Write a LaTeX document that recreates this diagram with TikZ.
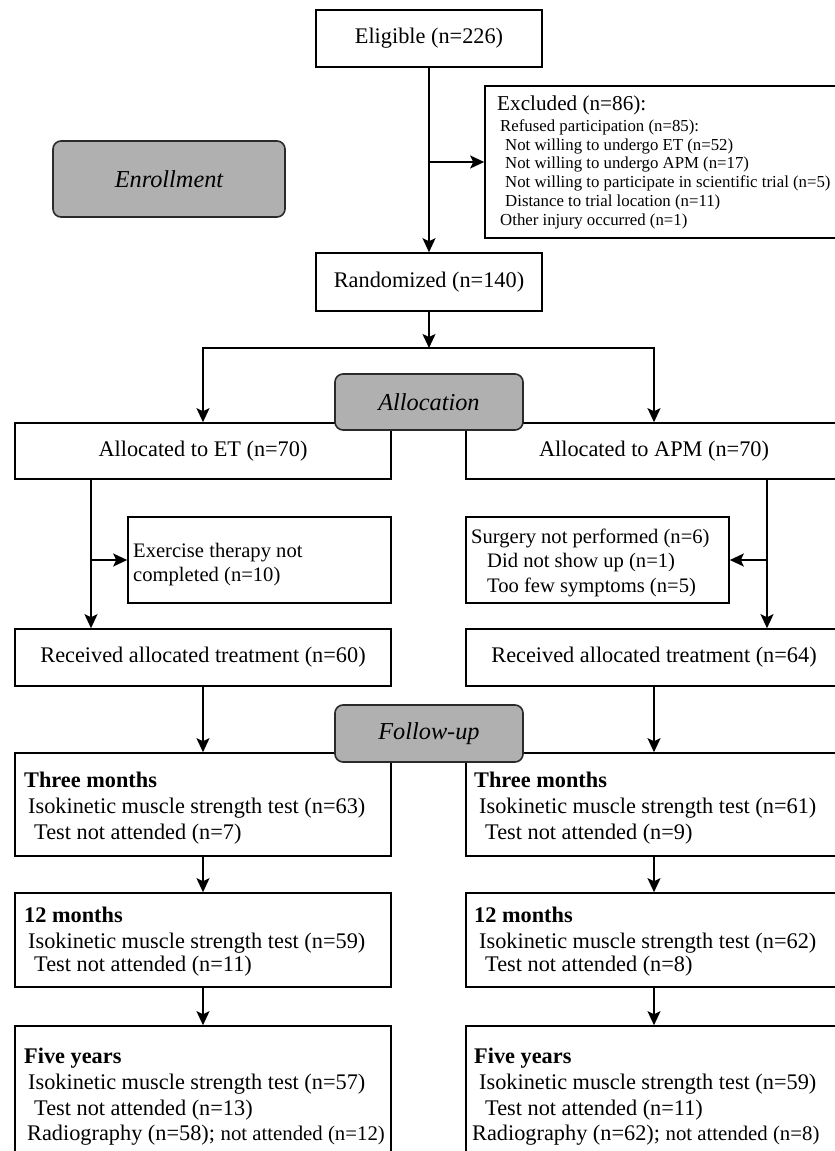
\documentclass[tikz,border=0pt]{standalone}
\usepackage{fontspec}
\setmainfont{Liberation Serif}
\usetikzlibrary{arrows.meta}
\definecolor{phase}{HTML}{B0B0B0}
\definecolor{phaseline}{HTML}{2A2A2A}
\newcommand{\smallpart}[1]{{\fontsize{20.8}{24}\selectfont #1}}
\begin{document}
\begin{tikzpicture}[x=1pt,y=-1pt,
  every node/.style={font=\fontsize{22.3}{26}\selectfont},
  box/.style={draw, line width=1.6pt, fill=white, inner sep=0pt, minimum width=376pt},
  phasebox/.style={draw=phaseline, line width=1.6pt, fill=phase, rounded corners=8pt, inner sep=0pt,
     font=\fontsize{24.3}{28}\selectfont\itshape},
  txt/.style={inner sep=0pt, anchor=base west},
  small/.style={txt, font=\fontsize{16.8}{20}\selectfont},
  mid/.style={txt, font=\fontsize{20.6}{24}\selectfont},
  ln/.style={line width=1.6pt},
  arr/.style={line width=1.6pt, -{Stealth[length=14pt,width=13pt,inset=3pt]}}]
\useasboundingbox (0,0) rectangle (835,1151);
\clip (0,0) rectangle (835,1151);
\fill[white] (0,0) rectangle (835,1151);

% enrollment
\node[box, minimum width=226pt, minimum height=57pt] (elig) at (429,38.5) {Eligible (n=226)};
\node[box, minimum width=360pt, minimum height=152pt] (excl) at (665,162) {};
\node[box, minimum width=226pt, minimum height=58pt] (rand) at (429,282) {Randomized (n=140)};
\node[phasebox, minimum width=232pt, minimum height=76pt] (enroll) at (169,179) {Enrollment};

\node[txt, font=\fontsize{21.2}{24}\selectfont] (exclT) at (497,110) {Excluded (n=86):};
\node[small] (exclA) at (500,131) {Refused participation (n=85):};
\node[small] (exclB) at (505,150) {Not willing to undergo ET (n=52)};
\node[small] (exclC) at (505,168.5) {Not willing to undergo APM (n=17)};
\node[small] (exclD) at (505,187) {Not willing to participate in scientific trial (n=5)};
\node[small] (exclE) at (505,206) {Distance to trial location (n=11)};
\node[small] (exclF) at (500,225) {Other injury occurred (n=1)};

\draw[arr] (elig.south) -- (rand.north);
\draw[arr] (elig.south |- excl.west) -- (excl.west);

% allocation
\node[box, minimum height=56pt] (alET) at (203,451) {Allocated to ET (n=70)};
\node[box, minimum height=56pt] (alAPM) at (654,451) {Allocated to APM (n=70)};
\coordinate (split) at (429,348);
\draw[arr] (rand.south) -- (split);
\draw[arr] (split) -| (alET.north);
\draw[arr] (split) -| (alAPM.north);
\node[phasebox, minimum width=188pt, minimum height=56pt] (alloc) at (429,402) {Allocation};

\node[box, minimum width=263pt, minimum height=86pt] (exer) at (259.5,560) {};
\node[mid] (exerA) at (133,557) {Exercise therapy not};
\node[mid] (exerB) at (133,581) {completed (n=10)};
\node[box, minimum width=263pt, minimum height=86pt] (surg) at (597.5,560) {};
\node[mid] (surgA) at (471,543) {Surgery not performed (n=6)};
\node[mid] (surgB) at (487,567) {Did not show up (n=1)};
\node[mid] (surgC) at (487,592) {Too few symptoms (n=5)};

\node[box, minimum height=57pt] (recET) at (203,657.5) {Received allocated treatment (n=60)};
\node[box, minimum height=57pt] (recAPM) at (654,657.5) {Received allocated treatment (n=64)};

\draw[arr] ([xshift=-112pt]alET.south) -- ([xshift=-112pt]recET.north);
\draw[arr] ([xshift=-112pt]alET.south |- exer.west) -- (exer.west);
\draw[arr] ([xshift=113pt]alAPM.south) -- ([xshift=113pt]recAPM.north);
\draw[arr] ([xshift=113pt]alAPM.south |- surg.east) -- (surg.east);

% follow-up
\node[box, minimum height=103pt] (tmET) at (203,804.5) {};
\node[box, minimum height=103pt] (tmAPM) at (654,804.5) {};
\node[phasebox, minimum width=188pt, minimum height=57pt] (fu) at (429,733.5) {Follow-up};
\draw[arr] (recET.south) -- (tmET.north);
\draw[arr] (recAPM.south) -- (tmAPM.north);

\node[txt] (tmETa) at (24,787) {\bfseries Three months};
\node[txt] (tmETb) at (28,813) {Isokinetic muscle strength test (n=63)};
\node[txt] (tmETc) at (34,839) {Test not attended (n=7)};
\node[txt] (tmAPMa) at (474,787) {\bfseries Three months};
\node[txt] (tmAPMb) at (479,813) {Isokinetic muscle strength test (n=61)};
\node[txt] (tmAPMc) at (485,839) {Test not attended (n=9)};

\node[box, minimum height=94pt] (twET) at (203,940) {};
\node[box, minimum height=94pt] (twAPM) at (654,940) {};
\draw[arr] (tmET.south) -- (twET.north);
\draw[arr] (tmAPM.south) -- (twAPM.north);

\node[txt] (twETa) at (24,922) {\bfseries 12 months};
\node[txt] (twETb) at (28,948) {Isokinetic muscle strength test (n=59)};
\node[txt] (twETc) at (34,971) {Test not attended (n=11)};
\node[txt] (twAPMa) at (474,922) {\bfseries 12 months};
\node[txt] (twAPMb) at (479,948) {Isokinetic muscle strength test (n=62)};
\node[txt] (twAPMc) at (485,971) {Test not attended (n=8)};

\node[box, minimum height=144pt] (fyET) at (203,1098) {};
\node[box, minimum height=144pt] (fyAPM) at (654,1098) {};
\draw[arr] (twET.south) -- (fyET.north);
\draw[arr] (twAPM.south) -- (fyAPM.north);

\node[txt] (fyETa) at (24,1063) {\bfseries Five years};
\node[txt] (fyETb) at (28,1089) {Isokinetic muscle strength test (n=57)};
\node[txt] (fyETc) at (34,1115) {Test not attended (n=13)};
\node[txt] (fyETd) at (27,1140) {Radiography (n=58); \smallpart{not attended (n=12)}};
\node[txt] (fyAPMa) at (474,1063) {\bfseries Five years};
\node[txt] (fyAPMb) at (479,1089) {Isokinetic muscle strength test (n=59)};
\node[txt] (fyAPMc) at (485,1115) {Test not attended (n=11)};
\node[txt] (fyAPMd) at (472,1140) {Radiography (n=62); \smallpart{not attended (n=8)}};
\end{tikzpicture}
\end{document}
